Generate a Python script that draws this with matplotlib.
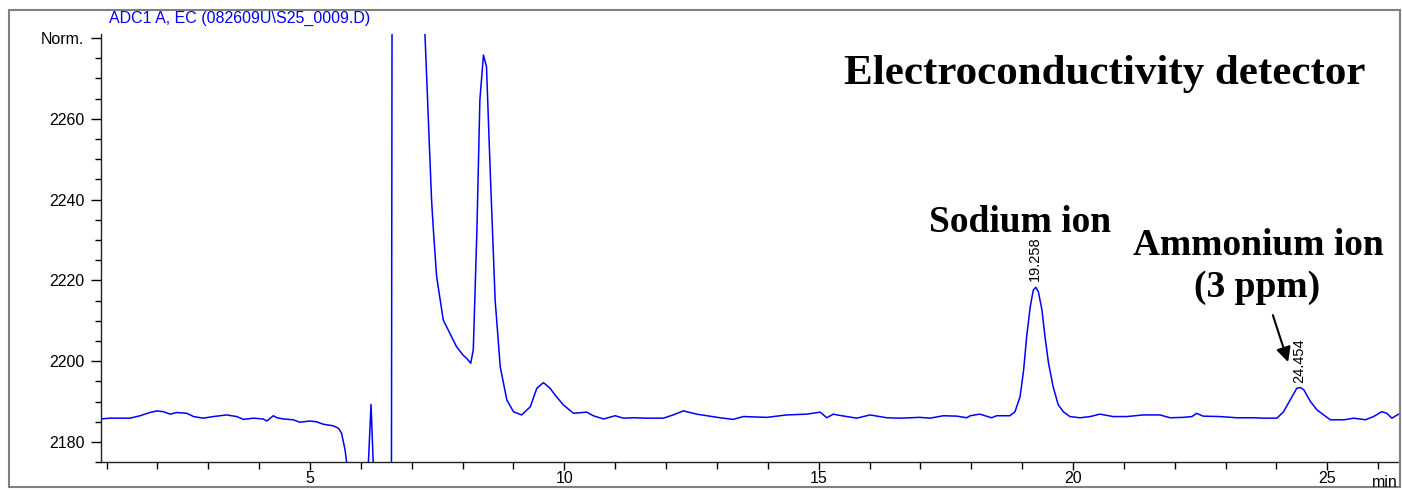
import matplotlib
matplotlib.use("Agg")
import matplotlib.pyplot as plt
from matplotlib.patches import Rectangle

# chromatogram trace (min, signal)
time_min = [0.87, 1.07, 1.26, 1.46, 1.66, 1.85, 1.99, 2.12, 2.25, 2.38,
            2.58, 2.71, 2.90, 3.10, 3.36, 3.56, 3.69, 3.89, 4.08, 4.15,
            4.28, 4.35, 4.48, 4.67, 4.80, 5.00, 5.13, 5.26, 5.46, 5.56,
            5.62, 5.69, 5.73, 5.78, 6.12, 6.145, 6.20, 6.245, 6.27, 6.60,
            6.625, 7.24, 7.26, 7.39, 7.43, 7.49, 7.62, 7.75, 7.88, 8.01,
            8.08, 8.16, 8.21, 8.28, 8.34, 8.41, 8.47, 8.54, 8.64, 8.74,
            8.87, 9.00, 9.16, 9.33, 9.46, 9.59, 9.72, 9.82, 9.98, 10.18,
            10.44, 10.57, 10.77, 11.00, 11.16, 11.36, 11.62, 11.95, 12.14, 12.34,
            12.60, 12.80, 13.06, 13.32, 13.52, 13.98, 14.37, 14.77, 15.03, 15.16,
            15.29, 15.36, 15.55, 15.75, 16.01, 16.34, 16.60, 16.99, 17.19, 17.45,
            17.72, 17.91, 17.98, 18.17, 18.40, 18.50, 18.76, 18.86, 18.96, 19.03,
            19.09, 19.16, 19.22, 19.27, 19.32, 19.39, 19.45, 19.52, 19.61, 19.71,
            19.81, 19.94, 20.14, 20.34, 20.53, 20.79, 21.06, 21.38, 21.71, 21.91,
            22.17, 22.34, 22.43, 22.56, 22.89, 23.22, 23.55, 23.75, 24.01, 24.14,
            24.27, 24.40, 24.47, 24.54, 24.67, 24.80, 24.93, 25.06, 25.33, 25.52,
            25.75, 25.91, 26.07, 26.17, 26.27, 26.43]
signal = [2185.7, 2185.9, 2185.9, 2185.9, 2186.5, 2187.3, 2187.7, 2187.5, 2186.9, 2187.3,
          2187.1, 2186.3, 2185.9, 2186.3, 2186.7, 2186.3, 2185.6, 2185.9, 2185.7, 2185.2,
          2186.5, 2186.0, 2185.7, 2185.5, 2184.9, 2185.2, 2185.0, 2184.4, 2184.0, 2183.4,
          2182.2, 2178.0, 2174.0, 2160.0, 2160.0, 2174.0, 2189.3, 2174.0, 2160.0, 2160.0,
          2400.0, 2400.0, 2281.0, 2239.9, 2231.7, 2220.9, 2210.2, 2206.9, 2203.6, 2201.5,
          2200.7, 2199.5, 2202.8, 2231.7, 2264.7, 2275.8, 2272.9, 2248.1, 2215.1, 2198.6,
          2190.4, 2187.5, 2186.7, 2188.7, 2193.3, 2194.7, 2193.3, 2191.6, 2189.2, 2187.1,
          2187.4, 2186.5, 2185.7, 2186.5, 2185.9, 2186.0, 2185.9, 2185.9, 2186.7, 2187.7,
          2186.9, 2186.5, 2186.0, 2185.6, 2186.3, 2186.1, 2186.7, 2186.9, 2187.4, 2186.0,
          2186.9, 2186.7, 2186.3, 2185.9, 2186.7, 2186.0, 2185.9, 2186.1, 2185.9, 2186.5,
          2186.4, 2186.0, 2186.5, 2186.9, 2186.0, 2186.5, 2186.5, 2187.5, 2191.2, 2197.8,
          2206.1, 2213.5, 2217.6, 2218.3, 2217.2, 2212.7, 2206.1, 2199.5, 2193.7, 2189.2,
          2187.5, 2186.3, 2186.0, 2186.3, 2186.9, 2186.3, 2186.3, 2186.7, 2186.7, 2186.0,
          2186.1, 2186.3, 2187.1, 2186.4, 2186.3, 2186.0, 2186.0, 2185.9, 2185.9, 2187.5,
          2190.4, 2193.3, 2193.5, 2192.9, 2190.0, 2187.9, 2186.7, 2185.5, 2185.5, 2185.9,
          2185.5, 2186.3, 2187.5, 2187.1, 2185.9, 2187.1]

peak_times = [19.258, 24.454]
peak_labels = ["19.258", "24.454"]
peak_label_y = [2219.8, 2194.7]

x_major = [5, 10, 15, 20, 25]
x_minor = list(range(1, 27))
y_major = [2180, 2200, 2220, 2240, 2260, 2280]
y_labels = ["2180", "2200", "2220", "2240", "2260", "Norm."]
y_minor = list(range(2175, 2281, 5))

plt.rcParams["font.family"] = ["Liberation Sans", "DejaVu Sans"]

W, H = 1402, 490
fig = plt.figure(figsize=(W / 100, H / 100), dpi=100)

# outer grey frame
fig.patches.append(Rectangle((9 / W, 3 / H), (1400 - 9) / W, (480 - 3) / H,
                             transform=fig.transFigure, fill=False,
                             edgecolor="#808080", linewidth=1.5))

ax = fig.add_axes([101 / W, (H - 462.2) / H, (1399 - 101) / W, (462.2 - 34) / H])
ax.plot(time_min, signal, color="#0000FF", linewidth=1.1)
ax.set_xlim(0.891, 26.41)
ax.set_ylim(2175, 2281)

ax.spines["top"].set_visible(False)
ax.spines["right"].set_visible(False)
for s in ["left", "bottom"]:
    ax.spines[s].set_color("#202020")
    ax.spines[s].set_linewidth(1.0)

ax.set_xticks(x_major)
ax.set_xticks(x_minor, minor=True)
ax.set_yticks(y_major)
ax.set_yticklabels(y_labels)
ax.set_yticks(y_minor, minor=True)
ax.tick_params(axis="x", which="major", length=6, width=1, labelsize=11.5, pad=0)
ax.tick_params(axis="x", which="minor", length=5, width=1)
ax.tick_params(axis="y", which="major", length=7, width=1, labelsize=11.5, pad=5)
ax.tick_params(axis="y", which="minor", length=4, width=1)

fig.text(1398 / W, 1 - 482 / H, "min", ha="right", va="center", fontsize=11.5)
fig.text(240 / W, 1 - 18 / H, r"ADC1 A, EC (082609U\S25_0009.D)",
         ha="center", va="center", fontsize=11.5, color="#0000FF")

for t, lab, yy in zip(peak_times, peak_labels, peak_label_y):
    ax.text(t, yy, lab, rotation=90, ha="center", va="bottom", fontsize=10.5)

serif = dict(family=["Liberation Serif", "DejaVu Serif"], fontweight="bold")
ax.text(20.63, 2268.6, "Electroconductivity detector", ha="center",
        va="baseline", fontsize=31, **serif)
ax.text(18.96, 2232.0, "Sodium ion", ha="center", va="baseline", fontsize=27, **serif)
ax.text(23.64, 2226.3, "Ammonium ion", ha="center", va="baseline", fontsize=27, **serif)
ax.text(23.62, 2215.9, "(3 ppm)", ha="center", va="baseline", fontsize=27, **serif)

ax.annotate("", xy=(24.23, 2199.8), xytext=(23.93, 2211.4),
            arrowprops=dict(arrowstyle="-|>", color="black", lw=1.5,
                            mutation_scale=22, shrinkA=0, shrinkB=0))

fig.savefig("out.png", dpi=100)
